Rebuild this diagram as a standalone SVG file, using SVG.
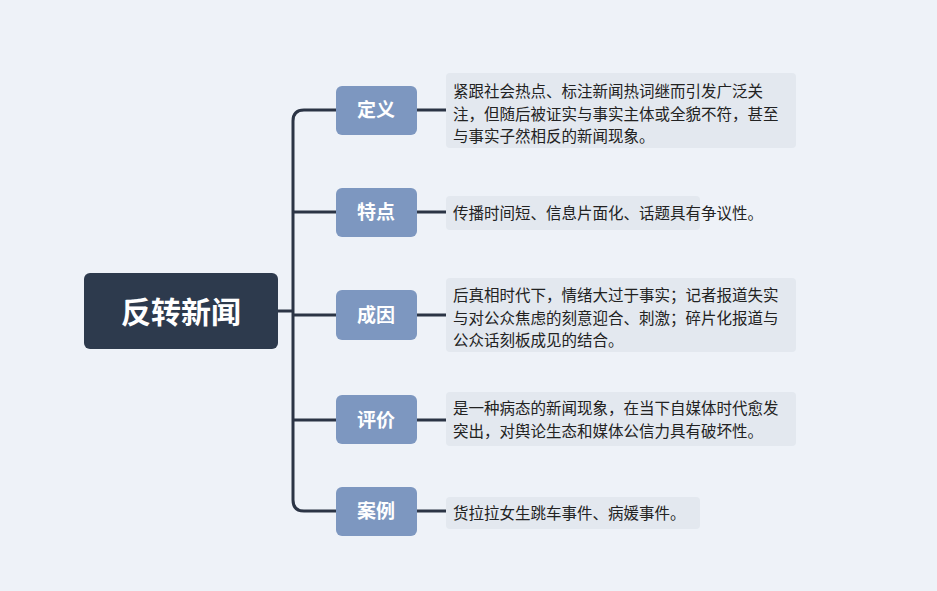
<svg xmlns="http://www.w3.org/2000/svg" width="937" height="591" viewBox="0 0 937 591">
<style>
text{font-family:"Noto Sans CJK SC","Noto Sans",sans-serif}
.b rect{fill:#7d97c0}
.b text{fill:#fff;font-size:19px;font-weight:bold;text-anchor:middle}
.l rect{fill:#e3e8ef}
.l text{fill:#222;font-size:15.5px}
.c{fill:none;stroke:#2b3445;stroke-width:3}
</style>
<rect width="937" height="591" fill="#eef2f8"/>
<g id="connectors">
<path class="c" d="M278 311H293M336 110H304Q293 110 293 121V500Q293 511 304 511H336M293 212H336M293 315H336M293 420H336"/>
<path class="c" d="M417 110H446M417 212H446M417 315H446M417 420H446M417 511H446"/>
</g>
<g id="root"><rect x="84" y="273" width="194" height="76" rx="6" fill="#2d3a4d"/><text x="181" y="323" font-size="30" font-weight="bold" fill="#fff" text-anchor="middle">反转新闻</text></g>
<g id="n1" class="b"><rect x="336" y="86" width="81" height="49" rx="6"/><text x="376" y="117">定义</text></g>
<g id="n2" class="b"><rect x="336" y="188" width="81" height="49" rx="6"/><text x="376" y="219">特点</text></g>
<g id="n3" class="b"><rect x="336" y="290" width="81" height="50" rx="6"/><text x="376" y="322">成因</text></g>
<g id="n4" class="b"><rect x="336" y="395" width="81" height="49" rx="6"/><text x="376" y="427">评价</text></g>
<g id="n5" class="b"><rect x="336" y="487" width="81" height="49" rx="6"/><text x="376" y="518">案例</text></g>
<g id="l1" class="l"><rect x="446" y="73" width="350" height="75" rx="4"/><text x="453" y="97">紧跟社会热点、标注新闻热词继而引发广泛关</text><text x="453" y="120">注，但随后被证实与事实主体或全貌不符，甚至</text><text x="453" y="142">与事实子然相反的新闻现象。</text></g>
<g id="l2" class="l"><rect x="446" y="196" width="254" height="34" rx="4"/><text x="453" y="219">传播时间短、信息片面化、话题具有争议性。</text></g>
<g id="l3" class="l"><rect x="446" y="278" width="350" height="74" rx="4"/><text x="453" y="301">后真相时代下，情绪大过于事实；记者报道失实</text><text x="453" y="324">与对公众焦虑的刻意迎合、刺激；碎片化报道与</text><text x="453" y="346">公众话刻板成见的结合。</text></g>
<g id="l4" class="l"><rect x="446" y="392" width="350" height="54" rx="4"/><text x="453" y="414">是一种病态的新闻现象，在当下自媒体时代愈发</text><text x="453" y="437">突出，对舆论生态和媒体公信力具有破坏性。</text></g>
<g id="l5" class="l"><rect x="446" y="497" width="254" height="32" rx="4"/><text x="453" y="519">货拉拉女生跳车事件、病媛事件。</text></g>
</svg>
